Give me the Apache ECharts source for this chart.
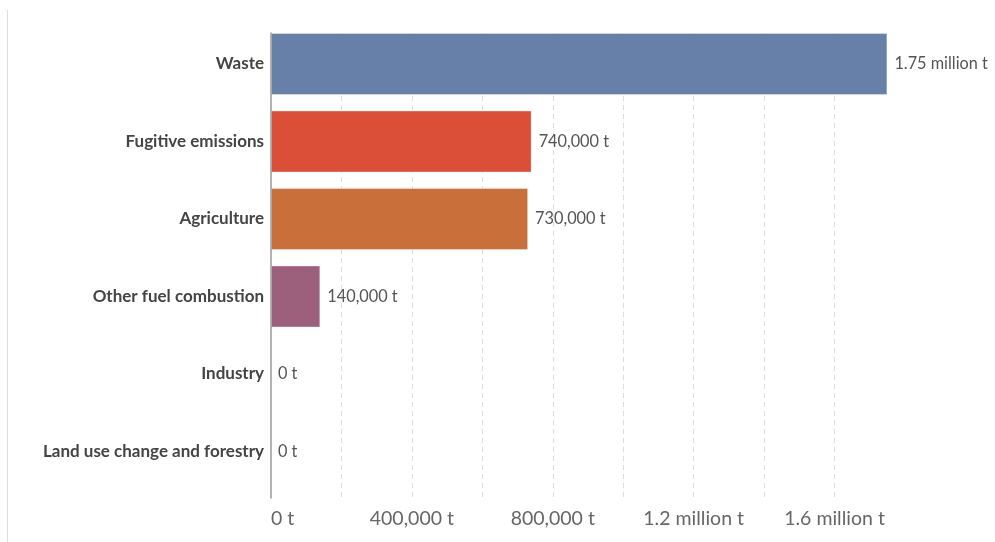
<!DOCTYPE html>
<html>
<head>
<meta charset="utf-8">
<script src="https://cdn.jsdelivr.net/npm/echarts@6/dist/echarts.min.js"></script>
<style>
html,body{margin:0;padding:0;background:#fff;}
#chart{width:995px;height:542px;}
</style>
</head>
<body>
<div id="chart"></div>
<script>
const categories = ["Waste", "Fugitive emissions", "Agriculture", "Other fuel combustion", "Industry", "Land use change and forestry"];
const values = [1750000, 740000, 730000, 140000, 0, 0];
const barColors = ["#6680a8", "#db4f39", "#c96f39", "#9d607c", "#888888", "#888888"];
const tickLabels = {0: "0 t", 400000: "400,000 t", 800000: "800,000 t", 1200000: "1.2 million t", 1600000: "1.6 million t"};

function fmt(v) {
  if (v >= 1000000) return (v / 1000000).toString() + " million t";
  return v.toLocaleString("en-US") + " t";
}

const chart = echarts.init(document.getElementById("chart"));
chart.setOption({
  animation: false,
  grid: {left: 271, right: 90, top: 33, bottom: 44, containLabel: false},
  graphic: [{
    type: "line", shape: {x1: 7.5, y1: 10, x2: 7.5, y2: 542},
    style: {stroke: "#dddddd", lineWidth: 1}
  }],
  xAxis: {
    type: "value", min: 0, max: 1800000, interval: 200000,
    axisLine: {show: false}, axisTick: {show: false},
    splitLine: {show: true, showMinLine: false, showMaxLine: false, lineStyle: {color: "#dddddd", type: [5, 4], width: 1}},
    axisLabel: {
      fontFamily: "Lato", fontSize: 19.5, color: "#666666", margin: 11,
      alignMinLabel: "left",
      formatter: function (v) { return tickLabels[v] !== undefined ? tickLabels[v] : ""; }
    }
  },
  yAxis: {
    type: "category", data: categories, inverse: true, z: 5,
    axisLine: {show: true, lineStyle: {color: "#999999", width: 1.5}},
    axisTick: {show: false},
    axisLabel: {fontFamily: "Lato", fontWeight: "bold", fontSize: 17, color: "#444444", margin: 7,
                verticalAlign: "bottom", lineHeight: 16}
  },
  series: [{
    type: "bar",
    barWidth: 62,
    barGap: 0,
    data: values.map((v, i) => ({value: v, itemStyle: {color: barColors[i], borderWidth: v > 0 ? 1 : 0}})),
    itemStyle: {borderColor: "rgba(255,255,255,0.35)", borderWidth: 1},
    label: {
      show: true, position: "right", distance: 7,
      fontFamily: "Lato", fontSize: 16.3, color: "#555555",
      formatter: function (p) { return fmt(p.value); }
    }
  }, {
    type: "bar",
    barWidth: 15.5,
    barGap: 0,
    data: values.map(() => null),
    silent: true
  }]
});
</script>
</body>
</html>
